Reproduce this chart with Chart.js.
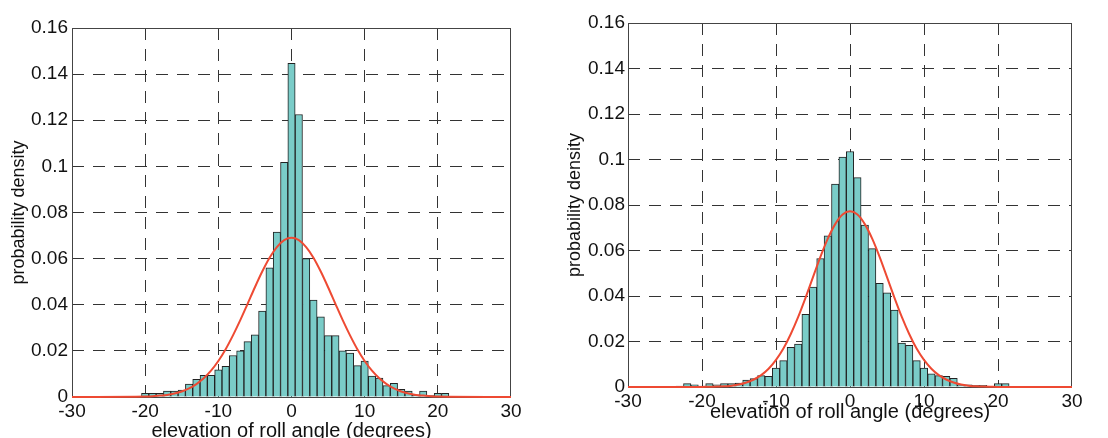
<!DOCTYPE html>
<html>
<head>
<meta charset="utf-8">
<script src="https://cdn.jsdelivr.net/npm/chart.js@4/dist/chart.umd.min.js"></script>
<style>
  html, body { margin: 0; padding: 0; background: #fff; overflow: hidden; }
  canvas { position: absolute; top: 0; }
  #left-chart { left: 0; }
  #right-chart { left: 553px; }
</style>
</head>
<body>
<canvas id="left-chart" width="555" height="438"></canvas>
<canvas id="right-chart" width="555" height="438"></canvas>
<script>
// histogram bins (centre of each 1 degree bin)
const leftBins = [-20, -19, -18, -17, -16, -15, -14, -13, -12, -11, -10, -9, -8, -7, -6, -5, -4, -3, -2, -1,
  0, 1, 2, 3, 4, 5, 6, 7, 8, 9, 10, 11, 12, 13, 14, 15, 16, 17, 18, 19, 20, 21];
const leftDensity = [0.0016, 0.0016, 0.0016, 0.0026, 0.0026, 0.003, 0.0056, 0.0077, 0.0094, 0.0094, 0.0118, 0.0133,
  0.018, 0.020, 0.024, 0.027, 0.0373, 0.056, 0.0715, 0.1018,
  0.1447, 0.1225, 0.060, 0.042, 0.0348, 0.0266, 0.0266, 0.020, 0.019, 0.0136, 0.0156, 0.0091,
  0.0082, 0.0049, 0.0059, 0.0033, 0.0026, 0.0009, 0.0026, 0.0006, 0.0016, 0.0016];

const rightBins = [-23, -22, -21, -20, -19, -18, -17, -16, -15, -14, -13, -12, -11, -10, -9, -8, -7, -6, -5, -4, -3, -2, -1,
  0, 1, 2, 3, 4, 5, 6, 7, 8, 9, 10, 11, 12, 13, 14, 15, 16, 17, 18, 19, 20, 21];
const rightDensity = [0.0004, 0.0015, 0.001, 0.0004, 0.0015, 0.001, 0.0015, 0.0015, 0.0017, 0.003, 0.0037, 0.005, 0.0047,
  0.0083, 0.0116, 0.0174, 0.0189, 0.0319, 0.0439, 0.0565, 0.0665, 0.0892, 0.1011,
  0.1035, 0.092, 0.0712, 0.0608, 0.0456, 0.0414, 0.0338, 0.0193, 0.0183, 0.0116, 0.0083, 0.0058,
  0.005, 0.0047, 0.0038, 0.001, 0.001, 0.0007, 0.0007, 0, 0.0015, 0.0015];

// fitted normal curves, sampled along the x axis
const curveX = [-30, -20, -19, -18, -17, -16, -15, -14, -13, -12, -11, -10, -9, -8, -7, -6, -5, -4, -3, -2, -1,
  0, 1, 2, 3, 4, 5, 6, 7, 8, 9, 10, 11, 12, 13, 14, 15, 16, 17, 18, 19, 20, 30];
const leftCurve = [0, 0.0002, 0.0003, 0.0006, 0.0009, 0.0015, 0.0024, 0.0037, 0.0056, 0.0081, 0.0114, 0.0156,
  0.0207, 0.0267, 0.0333, 0.0404, 0.0476, 0.0544, 0.0604, 0.065, 0.068,
  0.069, 0.068, 0.065, 0.0604, 0.0544, 0.0476, 0.0404, 0.0333, 0.0267, 0.0207, 0.0156, 0.0114,
  0.0081, 0.0056, 0.0037, 0.0024, 0.0015, 0.0009, 0.0006, 0.0003, 0.0002, 0];
const rightCurve = [0, 0, 0.0001, 0.0002, 0.0003, 0.0006, 0.0011, 0.002, 0.0033, 0.0052, 0.008, 0.0119,
  0.0169, 0.0233, 0.0308, 0.0393, 0.0483, 0.0572, 0.0652, 0.0716, 0.0758,
  0.0772, 0.0758, 0.0716, 0.0652, 0.0572, 0.0483, 0.0393, 0.0308, 0.0233, 0.0169, 0.0119, 0.008,
  0.0052, 0.0033, 0.002, 0.0011, 0.0006, 0.0003, 0.0002, 0.0001, 0, 0];

const xTicks = [-30, -20, -10, 0, 10, 20, 30];
const yMax = 0.16;

const FONT = 'Liberation Sans, Arial, sans-serif';
const textColor = '#111';
const gridColor = '#333';
const gridDash = [12, 9];

// solid frame round the plot area, drawn under the bars and the curve
const frame = {
  id: 'frame',
  beforeDatasetsDraw(chart) {
    const a = chart.chartArea;
    const ctx = chart.ctx;
    ctx.save();
    ctx.strokeStyle = '#444';
    ctx.lineWidth = 1;
    ctx.strokeRect(a.left + 0.5, a.top + 0.5, a.right - a.left - 1, a.bottom - a.top);
    ctx.restore();
  }
};

function hideEdge(lo, hi) {
  return c => (Math.abs(c.tick.value - lo) < 1e-6 || Math.abs(c.tick.value - hi) < 1e-6) ? 'rgba(0,0,0,0)' : gridColor;
}

function makeChart(id, bins, density, curve, box) {
  const ctx = document.getElementById(id).getContext('2d');
  return new Chart(ctx, {
    type: 'bar',
    data: {
      datasets: [
        {
          type: 'line',
          data: curveX.map((x, i) => ({ x, y: curve[i] })),
          borderColor: '#ee4a33',
          borderWidth: 2,
          pointRadius: 0,
          cubicInterpolationMode: 'monotone',
          clip: 4,
          order: 0
        },
        {
          type: 'bar',
          data: bins.map((x, i) => ({ x, y: density[i] })),
          backgroundColor: '#7accc8',
          borderColor: '#222',
          borderWidth: 1,
          borderSkipped: 'start',
          barPercentage: 1,
          categoryPercentage: 1,
          order: 1
        }
      ]
    },
    options: {
      responsive: false,
      animation: false,
      devicePixelRatio: 1,
      layout: { padding: { top: box.top, right: box.right, left: 0, bottom: 0 } },
      plugins: { legend: { display: false }, tooltip: { enabled: false } },
      scales: {
        x: {
          type: 'linear',
          min: -30,
          max: 30,
          offset: false,
          afterBuildTicks: s => { s.ticks = xTicks.map(v => ({ value: v })); },
          afterFit: s => { s.height = box.xHeight; },
          grid: { color: hideEdge(-30, 30), lineWidth: 1, drawTicks: false, offset: false },
          border: { display: false, dash: gridDash },
          ticks: { color: textColor, font: { family: FONT, size: 19 }, padding: 3, maxRotation: 0 },
          title: {
            display: true,
            text: 'elevation of roll angle (degrees)',
            color: textColor,
            font: { family: FONT, size: 20 },
            padding: { top: 0, bottom: box.xTitlePad }
          }
        },
        y: {
          min: 0,
          max: yMax,
          ticks: {
            stepSize: 0.02,
            color: textColor,
            font: { family: FONT, size: 19 },
            padding: box.yTickPad,
            callback: v => String(Number(v.toFixed(2)))
          },
          afterFit: s => { s.width = box.yWidth; },
          grid: { color: hideEdge(0, yMax), lineWidth: 1, drawTicks: false },
          border: { display: false, dash: gridDash },
          title: {
            display: true,
            text: 'probability density',
            color: textColor,
            font: { family: FONT, size: 18 },
            padding: { top: box.yTitlePad, bottom: 0 }
          }
        }
      }
    },
    plugins: [frame]
  });
}

makeChart('left-chart', leftBins, leftDensity, leftCurve,
  { top: 28, right: 44, xHeight: 41, yWidth: 72, xTitlePad: -5, yTitlePad: 8, yTickPad: 4 });
makeChart('right-chart', rightBins, rightDensity, rightCurve,
  { top: 23, right: 36, xHeight: 51, yWidth: 75, xTitlePad: 14, yTitlePad: 11, yTickPad: 3 });
</script>
</body>
</html>
